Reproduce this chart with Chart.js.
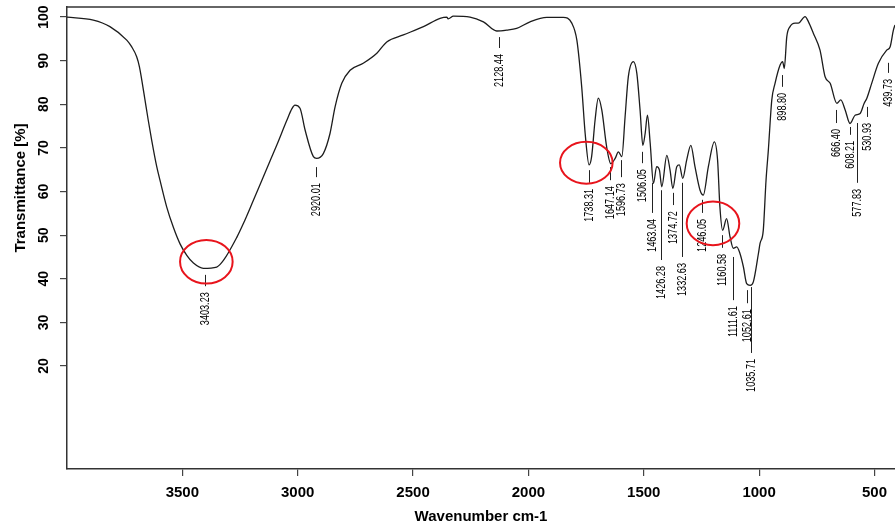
<!DOCTYPE html>
<html>
<head>
<meta charset="utf-8">
<script src="https://cdn.jsdelivr.net/npm/chart.js@4.4.1/dist/chart.umd.min.js"></script>
<style>
  html, body { margin: 0; padding: 0; background: #fff; }
  #wrap { width: 895px; height: 529px; }
</style>
</head>
<body>
<div id="wrap"><canvas id="ir" width="895" height="529"></canvas></div>
<script>
const wavenumbers = [
  4000, 3886, 3814, 3741, 3720, 3698, 3686, 3676, 3662, 3648, 3633, 3611, 3597, 3568, 3539, 3510, 3480, 3452,
  3409, 3351, 3322, 3264, 3236, 3192, 3163, 3120, 3091, 3048, 3025,
  3012, 2990, 2968, 2932, 2918, 2889, 2860, 2838, 2809, 2773, 2716, 2657, 2614, 2542, 2455, 2383, 2354, 2348,
  2325, 2253, 2195, 2137, 2094, 2051, 1993, 1920, 1849, 1812, 1790, 1769, 1754, 1737, 1726, 1711, 1697, 1682,
  1661, 1643, 1624, 1610, 1595, 1581, 1567, 1545, 1530, 1516, 1504, 1494, 1484, 1472, 1458, 1444, 1432, 1422,
  1400, 1386, 1374, 1357, 1346, 1331, 1314, 1296, 1278, 1256, 1242, 1220, 1194, 1180, 1170, 1158, 1141, 1126,
  1112, 1097, 1083, 1068, 1054, 1039, 1025, 1003, 996, 982, 970, 960, 945, 931, 909, 898, 891, 880,
  866, 844, 830, 801, 786, 765, 736, 714, 692, 663, 646, 627, 606, 584, 562, 545, 533, 512,
  483, 447, 432, 418, 411
];
const transmittance = [
  100, 99.3, 97.8, 94.7, 93.2, 90.9, 88.6, 85.6, 81.0, 76.4, 71.8, 65.7, 62.6, 56.5, 51.8, 48.0, 45.3, 43.6,
  42.4, 42.7, 44.2, 49.5, 52.6, 58.0, 61.6, 67.0, 70.6, 76.2, 79.0,
  79.8, 79.1, 74.1, 68.0, 67.6, 68.7, 73.3, 79.4, 84.8, 87.8, 89.4, 91.7, 94.3, 95.9, 97.8, 99.7, 100, 99.6,
  100.2, 100, 98.9, 96.8, 97.0, 97.4, 98.9, 99.9, 99.9, 98.6, 94.7, 84.0, 73.3, 66.1, 68.0, 76.4, 81.4, 78.7,
  70.3, 66.4, 67.6, 69.1, 68.0, 77.1, 86.3, 89.8, 87.1, 78.7, 70.6, 73.3, 77.5, 71.0, 61.9, 65.7, 64.9, 61.1,
  68.3, 64.9, 60.7, 65.7, 66.1, 63.0, 67.2, 70.6, 65.7, 60.3, 59.2, 65.7, 71.4, 67.2, 56.5, 51.1, 53.8, 49.6,
  47.0, 47.3, 45.8, 42.7, 38.9, 38.5, 39.3, 45.8, 48.1, 51.1, 62.6, 69.5, 81.0, 84.8, 89.0, 89.8, 88.2, 95.5,
  97.8, 98.6, 98.6, 100.1, 98.9, 96.3, 92.4, 86.3, 84.8, 80.2, 81.0, 78.7, 75.6, 77.5, 77.9, 80.2, 81.4, 84.8,
  89.4, 92.4, 93.2, 97.0, 98.2
];

const xTicks = [3500, 3000, 2500, 2000, 1500, 1000, 500];
const yTicks = [20, 30, 40, 50, 60, 70, 80, 90, 100];

// labelled peaks
const peaks = [3403.23, 2920.01, 2128.44, 1738.31, 1647.14, 1596.73, 1506.05, 1463.04, 1426.28, 1374.72, 1332.63,
  1246.05, 1160.58, 1111.61, 1052.61, 1035.71, 898.80, 666.40, 608.21, 577.83, 530.93, 439.73];
// marker line of each peak label, top and bottom in % T
const peakLineTop = [40.9, 65.6, 95.4, 64.9, 65.6, 67.2, 69.1, 62.0, 60.3, 59.7, 62.0,
  58.1, 50.0, 45.0, 37.4, 38.1, 86.7, 78.7, 74.8, 75.7, 79.4, 89.5];
const peakLineBottom = [38.3, 63.3, 92.9, 62.0, 62.6, 63.3, 66.5, 55.1, 44.3, 56.9, 45.0,
  55.1, 47.1, 35.1, 34.4, 23.0, 84.0, 75.7, 73.0, 62.0, 77.1, 87.2];

// red rings : centre and half axes, in data units
const ringX = [3396, 1749, 1200];
const ringY = [43.9, 66.6, 52.7];
const ringRx = [114, 114, 114];
const ringRy = [5.0, 4.8, 5.0];

const FONT = 'Liberation Sans, Arial, sans-serif';

const extras = {
  id: 'extras',
  afterDatasetsDraw(chart) {
    const { ctx, chartArea, scales: { x, y } } = chart;
    ctx.save();

    // top of the frame
    ctx.strokeStyle = '#333';
    ctx.lineWidth = 1.5;
    ctx.beginPath();
    ctx.moveTo(chartArea.left, chartArea.top);
    ctx.lineTo(chartArea.right, chartArea.top);
    ctx.stroke();

    // y tick labels, turned
    ctx.fillStyle = '#000';
    ctx.font = 'bold 14px ' + FONT;
    ctx.textAlign = 'center';
    ctx.textBaseline = 'middle';
    yTicks.forEach(v => {
      ctx.save();
      ctx.translate(44, y.getPixelForValue(v));
      ctx.rotate(-Math.PI / 2);
      ctx.fillText(String(v), 0, 0);
      ctx.restore();
    });

    // y title
    ctx.font = 'bold 15px ' + FONT;
    ctx.save();
    ctx.translate(21, 188);
    ctx.rotate(-Math.PI / 2);
    ctx.fillText('Transmittance [%]', 0, 0);
    ctx.restore();

    // peak markers + labels
    ctx.strokeStyle = '#222';
    ctx.fillStyle = '#000';
    ctx.lineWidth = 1;
    ctx.font = '12.5px ' + FONT;
    peaks.forEach((p, i) => {
      const px = Math.round(x.getPixelForValue(p)) + 0.5;
      const y0 = y.getPixelForValue(peakLineTop[i]);
      const y1 = y.getPixelForValue(peakLineBottom[i]);
      ctx.beginPath();
      ctx.moveTo(px, y0);
      ctx.lineTo(px, y1);
      ctx.stroke();
      ctx.save();
      ctx.translate(px, y1 + 6);
      ctx.rotate(-Math.PI / 2);
      ctx.scale(0.73, 1);
      ctx.textAlign = 'right';
      ctx.textBaseline = 'middle';
      ctx.fillText(p.toFixed(2), 0, 0);
      ctx.restore();
    });

    // red rings
    ctx.strokeStyle = '#e8141c';
    ctx.lineWidth = 2;
    ringX.forEach((w, i) => {
      const cx = x.getPixelForValue(w);
      const cy = y.getPixelForValue(ringY[i]);
      const rx = Math.abs(x.getPixelForValue(w + ringRx[i]) - cx);
      const ry = Math.abs(y.getPixelForValue(ringY[i] + ringRy[i]) - cy);
      ctx.beginPath();
      ctx.ellipse(cx, cy, rx, ry, 0, 0, Math.PI * 2);
      ctx.stroke();
    });

    ctx.restore();
  }
};

new Chart(document.getElementById('ir'), {
  type: 'line',
  data: {
    datasets: [{
      data: wavenumbers.map((w, i) => ({ x: w, y: transmittance[i] })),
      borderColor: '#1c1c1c',
      borderWidth: 1.3,
      pointRadius: 0,
      cubicInterpolationMode: 'monotone',
      fill: false
    }]
  },
  options: {
    responsive: false,
    animation: false,
    devicePixelRatio: 1,
    layout: { padding: { top: 7, left: 0, right: 0, bottom: 0 }, autoPadding: false },
    plugins: { legend: { display: false }, tooltip: { enabled: false } },
    scales: {
      x: {
        type: 'linear',
        reverse: true,
        min: 411,
        max: 4000,
        afterBuildTicks: s => { s.ticks = xTicks.map(v => ({ value: v })); },
        afterFit: s => { s.height = 60; },
        grid: { drawOnChartArea: false, tickLength: 7, color: '#444', lineWidth: 1.2 },
        border: { color: '#333', width: 1.5 },
        ticks: {
          color: '#000',
          font: { family: FONT, size: 15, weight: 'bold' },
          padding: 8,
          maxRotation: 0,
          autoSkip: false,
          callback: v => String(v)
        },
        title: {
          display: true,
          text: 'Wavenumber cm-1',
          color: '#000',
          font: { family: FONT, size: 15, weight: 'bold' },
          padding: { top: 0, bottom: 3 }
        }
      },
      y: {
        min: -3.6,
        max: 102.3,
        afterBuildTicks: s => { s.ticks = yTicks.map(v => ({ value: v })); },
        afterFit: s => { s.width = 67; },
        grid: { drawOnChartArea: false, tickLength: 7, color: '#444', lineWidth: 1.2 },
        border: { color: '#333', width: 1.5 },
        ticks: { display: false }
      }
    }
  },
  plugins: [extras]
});
</script>
</body>
</html>
